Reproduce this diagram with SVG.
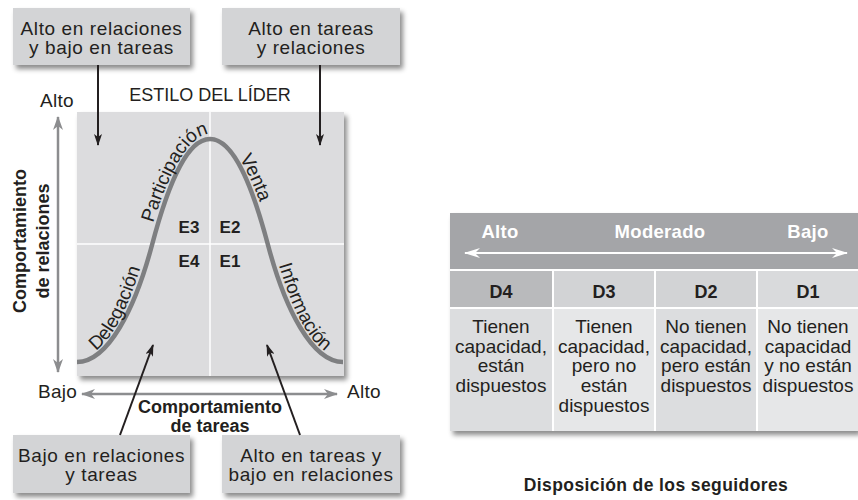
<svg xmlns="http://www.w3.org/2000/svg" xmlns:xlink="http://www.w3.org/1999/xlink" width="858" height="500" viewBox="0 0 858 500">
<style>
  text { font-family: "Liberation Sans", Arial, sans-serif; fill: #231f20; }
  .box { fill: #d3d4d6; }
  .bt { font-size: 19px; letter-spacing: 0.6px; text-anchor: middle; }
  .ax { font-size: 19px; letter-spacing: 0.3px; }
  .bold { font-weight: bold; font-size: 18px; text-anchor: middle; }
  .e { font-weight: bold; font-size: 17px; text-anchor: middle; }
  .cl { font-size: 19px; }
  .hd { font-weight: bold; font-size: 18.5px; letter-spacing: 0.3px; fill: #ffffff; text-anchor: middle; }
  .dl { font-weight: bold; font-size: 18px; text-anchor: middle; }
  .tt { font-size: 19px; text-anchor: middle; }
  .blk { stroke: #231f20; stroke-width: 2; fill: none; }
  .gry { stroke: #8c8d8f; stroke-width: 2.5; fill: none; }
</style>
<defs>
  <filter id="sh" x="-10%" y="-10%" width="130%" height="140%">
    <feDropShadow dx="3" dy="4" stdDeviation="2.5" flood-color="#000" flood-opacity="0.45"/>
  </filter>
  <marker id="ab" viewBox="0 0 12 8" refX="11" refY="4" markerWidth="12" markerHeight="8" markerUnits="userSpaceOnUse" orient="auto">
    <path d="M0,0 L12,4 L0,8 L3,4 Z" fill="#231f20"/>
  </marker>
  <marker id="ag" viewBox="0 0 14 10" refX="13" refY="5" markerWidth="14" markerHeight="10" markerUnits="userSpaceOnUse" orient="auto-start-reverse">
    <path d="M0,0 L14,5 L0,10 L4,5 Z" fill="#8c8d8f"/>
  </marker>
  <marker id="aw" viewBox="0 0 16 10" refX="15" refY="5" markerWidth="16" markerHeight="10" markerUnits="userSpaceOnUse" orient="auto-start-reverse">
    <path d="M0,0 L16,5 L0,10 L5,5 Z" fill="#ffffff"/>
  </marker>
  <path id="lab" d="M77,357 C108,357 130.2,307.7 147.2,243.7 C161.2,190.7 185,134 210,134 C235,134 258.8,190.7 272.8,243.7 C289.8,307.7 312,357 343,357"/>
</defs>

<rect width="858" height="500" fill="#ffffff"/>

<!-- quadrant panel -->
<g id="panel">
  <rect x="77" y="112" width="267" height="264" fill="#dcdcde" filter="url(#sh)"/>
  <line x1="210" y1="112" x2="210" y2="376" stroke="#ffffff" stroke-width="1.5"/>
  <line x1="77" y1="244" x2="344" y2="244" stroke="#ffffff" stroke-width="1.5"/>
  <path d="M77,362 C108,362 135,309 152,245 C166,192 185,139 210,139 C235,139 254,192 268,245 C285,309 312,362 343,362" fill="none" stroke="#7e7f81" stroke-width="4.5"/>
  <text class="cl"><textPath xlink:href="#lab" startOffset="20">Delegación</textPath></text>
  <text class="cl"><textPath xlink:href="#lab" startOffset="162">Participación</textPath></text>
  <text class="cl"><textPath xlink:href="#lab" startOffset="312">Venta</textPath></text>
  <text class="cl"><textPath xlink:href="#lab" startOffset="426">Información</textPath></text>
  <text class="e" x="189" y="233">E3</text>
  <text class="e" x="230" y="233">E2</text>
  <text class="e" x="189" y="267">E4</text>
  <text class="e" x="230" y="267">E1</text>
</g>

<g id="title">
  <text x="210" y="101" font-size="18" text-anchor="middle">ESTILO DEL LÍDER</text>
</g>

<!-- axes -->
<g id="axis-relaciones">
  <text class="ax" x="40" y="107">Alto</text>
  <text class="bold" transform="translate(26,241) rotate(-90)">Comportamiento</text>
  <text class="bold" transform="translate(49,241) rotate(-90)">de relaciones</text>
</g>
<g id="axis-tareas">
  <text class="ax" x="38" y="398">Bajo</text>
  <text class="ax" x="347" y="398">Alto</text>
  <text class="bold" x="210" y="413">Comportamiento</text>
  <text class="bold" x="210" y="432">de tareas</text>
</g>

<!-- boxes -->
<g id="box-alto-relaciones">
  <rect class="box" x="13" y="8" width="177" height="57" filter="url(#sh)"/>
  <text class="bt" x="101.5" y="35">Alto en relaciones</text>
  <text class="bt" x="101.5" y="54">y bajo en tareas</text>
</g>
<g id="box-alto-ambos">
  <rect class="box" x="222" y="8" width="178" height="57" filter="url(#sh)"/>
  <text class="bt" x="311" y="35">Alto en tareas</text>
  <text class="bt" x="311" y="54">y relaciones</text>
</g>
<g id="box-bajo-ambos">
  <rect class="box" x="13" y="435" width="177" height="58" filter="url(#sh)"/>
  <text class="bt" x="101.5" y="462">Bajo en relaciones</text>
  <text class="bt" x="101.5" y="481">y tareas</text>
</g>
<g id="box-alto-tareas">
  <rect class="box" x="222" y="435" width="178" height="58" filter="url(#sh)"/>
  <text class="bt" x="311" y="462">Alto en tareas y</text>
  <text class="bt" x="311" y="481">bajo en relaciones</text>
</g>

<!-- connectors -->
<g id="connectors">
  <line class="gry" x1="58" y1="131" x2="58" y2="117" marker-end="url(#ag)"/>
  <line class="gry" x1="58" y1="131" x2="58" y2="372" marker-end="url(#ag)"/>
  <line class="gry" x1="82" y1="394" x2="337" y2="394" marker-start="url(#ag)" marker-end="url(#ag)"/>
  <line class="blk" x1="98" y1="65" x2="98" y2="145" marker-end="url(#ab)"/>
  <line class="blk" x1="320" y1="65" x2="320" y2="145" marker-end="url(#ab)"/>
  <line class="blk" x1="120" y1="435" x2="153" y2="345" marker-end="url(#ab)"/>
  <line class="blk" x1="300" y1="435" x2="267" y2="345" marker-end="url(#ab)"/>
</g>

<!-- follower readiness table -->
<g id="table">
  <rect x="450" y="213" width="408" height="218" fill="#ffffff" filter="url(#sh)"/>
  <rect x="450" y="213" width="408" height="56" fill="#a4a5a8"/>
  <text class="hd" x="500" y="238">Alto</text>
  <text class="hd" x="660" y="238">Moderado</text>
  <text class="hd" x="808" y="238">Bajo</text>
  <line x1="465" y1="253" x2="847" y2="253" stroke="#ffffff" stroke-width="2" marker-start="url(#aw)" marker-end="url(#aw)"/>
  <rect x="450" y="271" width="102" height="36" fill="#b9babc"/>
  <rect x="554" y="271" width="100" height="36" fill="#d2d3d5"/>
  <rect x="656" y="271" width="100" height="36" fill="#d2d3d5"/>
  <rect x="758" y="271" width="100" height="36" fill="#d9dadc"/>
  <text class="dl" x="501" y="298">D4</text>
  <text class="dl" x="604" y="298">D3</text>
  <text class="dl" x="706" y="298">D2</text>
  <text class="dl" x="808" y="298">D1</text>
  <rect x="450" y="309" width="102" height="122" fill="#dcdddf"/>
  <rect x="554" y="309" width="100" height="122" fill="#e6e7e8"/>
  <rect x="656" y="309" width="100" height="122" fill="#dcdddf"/>
  <rect x="758" y="309" width="100" height="122" fill="#e6e7e8"/>
  <text class="tt" x="501" y="333">Tienen</text>
  <text class="tt" x="501" y="353">capacidad,</text>
  <text class="tt" x="501" y="372">están</text>
  <text class="tt" x="501" y="392">dispuestos</text>
  <text class="tt" x="604" y="333">Tienen</text>
  <text class="tt" x="604" y="353">capacidad,</text>
  <text class="tt" x="604" y="372">pero no</text>
  <text class="tt" x="604" y="392">están</text>
  <text class="tt" x="604" y="412">dispuestos</text>
  <text class="tt" x="706" y="333">No tienen</text>
  <text class="tt" x="706" y="353">capacidad,</text>
  <text class="tt" x="706" y="372">pero están</text>
  <text class="tt" x="706" y="392">dispuestos</text>
  <text class="tt" x="808" y="333">No tienen</text>
  <text class="tt" x="808" y="353">capacidad</text>
  <text class="tt" x="808" y="372">y no están</text>
  <text class="tt" x="808" y="392">dispuestos</text>
</g>
<g id="table-title">
  <text x="656" y="491" font-size="17.5" font-weight="bold" letter-spacing="0.4" text-anchor="middle">Disposición de los seguidores</text>
</g>
</svg>
